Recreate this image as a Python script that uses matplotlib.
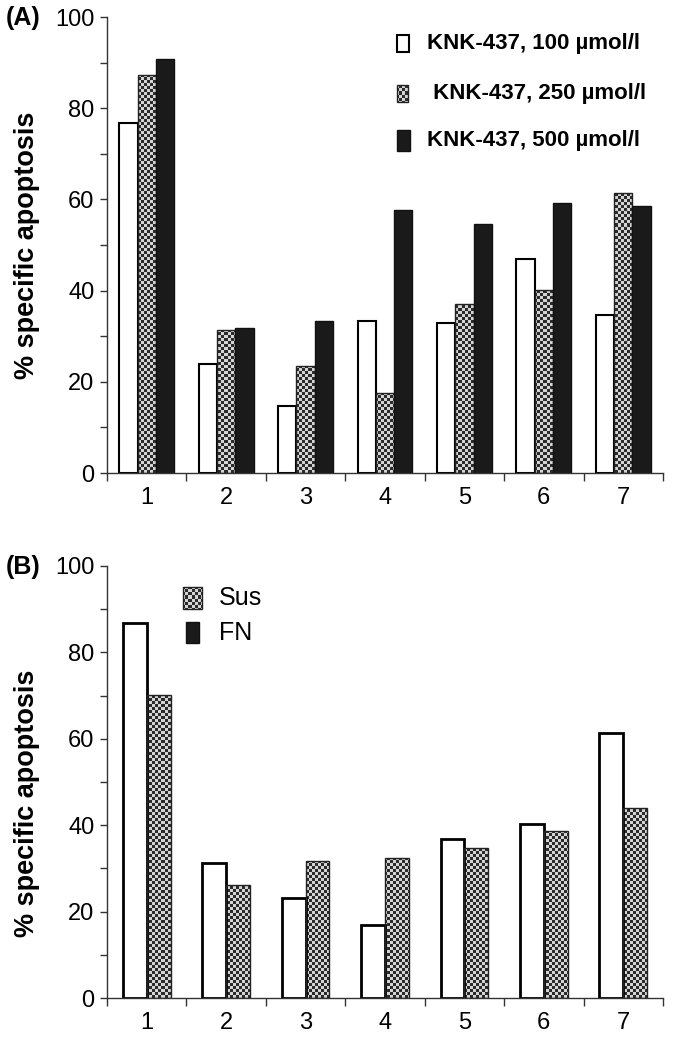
import numpy as np
import matplotlib.pyplot as plt
from matplotlib.patches import Rectangle
from matplotlib.colors import ListedColormap

plt.rcParams['font.family'] = ['Liberation Sans', 'DejaVu Sans']

# data
groups = [1, 2, 3, 4, 5, 6, 7]
knk_100 = [76.7, 23.9, 14.6, 33.3, 32.9, 47.0, 34.6]
knk_250 = [87.2, 31.3, 23.4, 17.5, 37.0, 40.1, 61.5]
knk_500 = [90.7, 31.8, 33.3, 57.6, 54.6, 59.2, 58.5]
b_white = [86.9, 31.3, 23.2, 17.0, 36.8, 40.2, 61.4]
b_check = [70.1, 26.2, 31.7, 32.4, 34.7, 38.6, 43.9]
legend_a = ['KNK-437, 100 µmol/l', ' KNK-437, 250 µmol/l', 'KNK-437, 500 µmol/l']
legend_b = ['Sus', 'FN']

checker_cmap = ListedColormap(['#2b2b2b', '#d4d4d4'])


def checker_fill(ax, patch, cell=3, z=1.5):
    # fill a patch with a small checkerboard texture
    bb = ax.get_window_extent()
    nx, ny = int(bb.width / cell), int(bb.height / cell)
    board = np.add.outer(np.arange(ny), np.arange(nx)) % 2
    x0, x1 = ax.get_xlim()
    y0, y1 = ax.get_ylim()
    im = ax.imshow(board, extent=(x0, x1, y0, y1), cmap=checker_cmap,
                   aspect='auto', interpolation='nearest', zorder=z)
    im.set_clip_path(patch)


def style_axes(ax, label_y):
    ax.set_xlim(0.5, 7.5)
    ax.set_ylim(0, 100)
    ax.spines['top'].set_visible(False)
    ax.spines['right'].set_visible(False)
    for s in ['left', 'bottom']:
        ax.spines[s].set_color('#333333')
        ax.spines[s].set_linewidth(1.0)
    ax.set_xticks(groups)
    ax.set_xticks(np.arange(0.5, 8, 1), minor=True)
    ax.set_yticks(range(0, 101, 20))
    ax.set_yticks(range(10, 100, 20), minor=True)
    ax.tick_params(axis='x', which='major', length=0, pad=10, labelsize=17)
    ax.tick_params(axis='x', which='minor', length=6, width=1, color='#333333')
    ax.tick_params(axis='y', which='both', length=5, width=1, color='#333333',
                   pad=4, labelsize=17)
    ax.set_ylabel('% specific apoptosis', fontsize=19.5, fontweight='bold')
    ax.yaxis.set_label_coords(-0.12, label_y)


fig = plt.figure(figsize=(6.87, 10.5), dpi=100)
ax1 = fig.add_axes([0.1557, 0.5495, 0.8093, 0.4343])
ax2 = fig.add_axes([0.1557, 0.0495, 0.8093, 0.4115])

x = np.array(groups, dtype=float)

# panel A
style_axes(ax1, 0.5)
w = 0.23
ax1.bar(x - w, knk_100, w, color='white', edgecolor='black', linewidth=1.5, zorder=2)
bars = ax1.bar(x, knk_250, w, color='none', edgecolor='#222222', linewidth=1.0, zorder=2)
for b in bars:
    checker_fill(ax1, b)
ax1.bar(x + w, knk_500, w, color='#1a1a1a', edgecolor='#111111', linewidth=1.0, zorder=2)

# legend A (drawn by hand, like the original)
r = Rectangle((0.5216, 0.923), 0.0216, 0.0373, transform=ax1.transAxes,
              facecolor='white', edgecolor='black', linewidth=1.5, zorder=5)
ax1.add_patch(r)
r = Rectangle((0.5216, 0.8136), 0.0198, 0.0373, transform=ax1.transAxes,
              facecolor='none', edgecolor='#222222', linewidth=1.0, zorder=5)
ax1.add_patch(r)
checker_fill(ax1, r, z=4.5)
r = Rectangle((0.5216, 0.706), 0.0234, 0.046, transform=ax1.transAxes,
              facecolor='#1a1a1a', edgecolor='#111111', linewidth=1.0, zorder=5)
ax1.add_patch(r)
for lab, yy in zip(legend_a, [0.943, 0.833, 0.730]):
    ax1.text(0.5755, yy, lab, transform=ax1.transAxes, fontsize=16,
             fontweight='bold', va='center', ha='left')
ax1.set_xlim(0.5, 7.5)
ax1.set_ylim(0, 100)

# panel B
style_axes(ax2, 0.45)
w = 0.3
ax2.bar(x - w / 2, b_white, w, color='white', edgecolor='black', linewidth=2.0, zorder=2)
bars = ax2.bar(x + w / 2, b_check, w, color='none', edgecolor='#222222', linewidth=1.0, zorder=2)
for b in bars:
    checker_fill(ax2, b)

# legend B
r = Rectangle((0.1367, 0.9005), 0.0342, 0.051, transform=ax2.transAxes,
              facecolor='none', edgecolor='#222222', linewidth=1.0, zorder=5)
ax2.add_patch(r)
checker_fill(ax2, r, z=4.5)
r = Rectangle((0.1421, 0.8218), 0.0234, 0.0486, transform=ax2.transAxes,
              facecolor='#1a1a1a', edgecolor='#111111', linewidth=1.0, zorder=5)
ax2.add_patch(r)
for lab, yy in zip(legend_b, [0.926, 0.845]):
    ax2.text(0.2014, yy, lab, transform=ax2.transAxes, fontsize=18,
             va='center', ha='left')
ax2.set_xlim(0.5, 7.5)
ax2.set_ylim(0, 100)

fig.text(0.008, 1 - 18 / 1050, '(A)', fontsize=18, fontweight='bold', va='center')
fig.text(0.008, 1 - 567 / 1050, '(B)', fontsize=18, fontweight='bold', va='center')

fig.savefig('out.png', dpi=100)
